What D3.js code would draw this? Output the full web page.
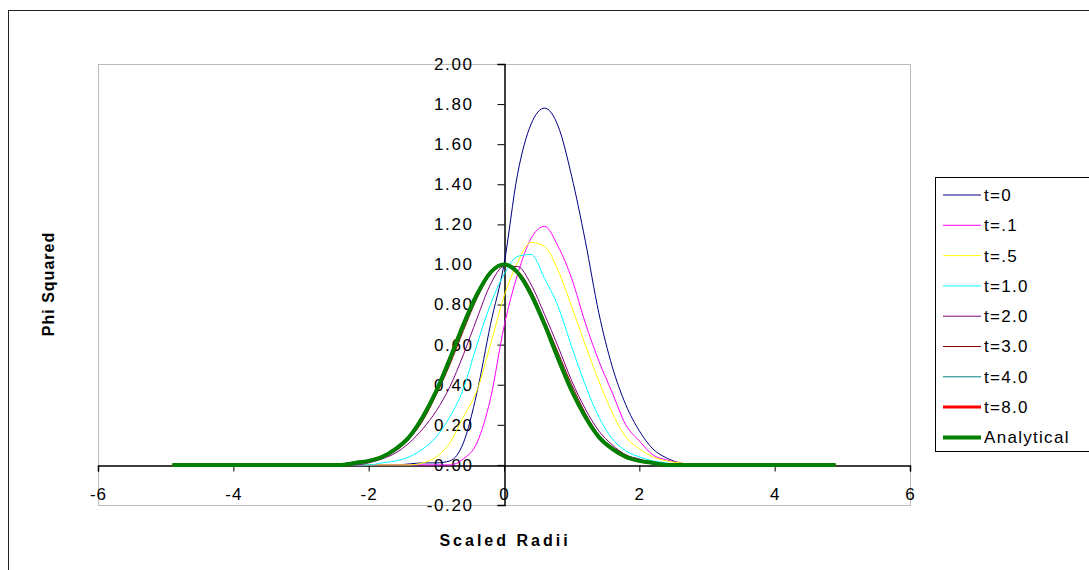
<!DOCTYPE html>
<html lang="en">
<head>
    <meta charset="UTF-8">
    <title>Phi Squared</title>
    <script src="https://d3js.org/d3.v7.min.js"></script>
    <style>
        body { margin: 0; background: #fff; }
        svg text { font-family: "Liberation Sans", Arial, sans-serif; fill: #000; }
    </style>
</head>
<body>
    <div id="chart"></div>
    <script>
        // x positions (scaled radii)
        const radii = [-4.9, -3.0, -2.8, -2.6, -2.4, -2.2, -2.0, -1.8, -1.6, -1.4, -1.2, -1.0, -0.8, -0.6, -0.4, -0.2,
            0, 0.2, 0.4, 0.6, 0.8, 1.0, 1.2, 1.4, 1.6, 1.8, 2.0, 2.2, 2.4, 2.6, 2.8, 3.0, 4.9];

        const t0 = [0, 0, 0, 0, 0, 0, 0, 0, 0, 0.005, 0.01, 0.01, 0.02, 0.11, 0.36, 0.70,
            1.00, 1.45, 1.70, 1.78, 1.69, 1.44, 1.12, 0.76, 0.49, 0.30, 0.17, 0.08, 0.035, 0.01, 0, 0, 0];
        const t01 = [0, 0, 0, 0, 0, 0, 0, 0, 0, 0, 0, 0, 0, 0.03, 0.11, 0.33,
            0.69, 0.95, 1.13, 1.19, 1.09, 0.93, 0.71, 0.52, 0.36, 0.20, 0.12, 0.05, 0.025, 0.01, 0, 0, 0];
        const t05 = [0, 0, 0, 0, 0, 0, 0, 0, 0, 0, 0.01, 0.04, 0.11, 0.24, 0.37, 0.60,
            0.84, 1.01, 1.11, 1.09, 0.97, 0.79, 0.60, 0.42, 0.26, 0.14, 0.08, 0.04, 0.02, 0.01, 0, 0, 0];
        const t1 = [0, 0, 0, 0, 0, 0, 0, 0.01, 0.02, 0.04, 0.08, 0.14, 0.24, 0.38, 0.60, 0.80,
            0.95, 1.04, 1.05, 0.93, 0.79, 0.59, 0.40, 0.24, 0.13, 0.07, 0.04, 0.02, 0.01, 0, 0, 0, 0];
        const t2 = [0, 0, 0, 0, 0, 0, 0.01, 0.03, 0.06, 0.11, 0.18, 0.27, 0.39, 0.55, 0.73, 0.90,
            0.99, 0.99, 0.90, 0.75, 0.59, 0.42, 0.28, 0.17, 0.10, 0.05, 0.03, 0.01, 0, 0, 0, 0, 0];
        const t3 = [0, 0, 0, 0, 0, 0.01, 0.02, 0.04, 0.07, 0.13, 0.22, 0.35, 0.50, 0.67, 0.83, 0.95,
            1.00, 0.97, 0.87, 0.72, 0.56, 0.40, 0.26, 0.15, 0.09, 0.05, 0.02, 0.01, 0, 0, 0, 0, 0];
        const t4 = [0, 0, 0, 0, 0, 0.01, 0.02, 0.04, 0.08, 0.14, 0.23, 0.36, 0.52, 0.69, 0.84, 0.96,
            1.00, 0.96, 0.86, 0.71, 0.54, 0.38, 0.24, 0.15, 0.08, 0.04, 0.02, 0.01, 0, 0, 0, 0, 0];
        const t8 = [0, 0, 0, 0, 0, 0.01, 0.02, 0.04, 0.08, 0.14, 0.24, 0.37, 0.53, 0.70, 0.85, 0.96,
            1.00, 0.96, 0.85, 0.70, 0.53, 0.37, 0.24, 0.14, 0.08, 0.04, 0.02, 0.01, 0, 0, 0, 0, 0];
        const analytical = [0, 0, 0, 0, 0, 0.01, 0.02, 0.04, 0.08, 0.14, 0.24, 0.37, 0.53, 0.70, 0.85, 0.96,
            1.00, 0.96, 0.85, 0.70, 0.53, 0.37, 0.24, 0.14, 0.08, 0.04, 0.02, 0.01, 0, 0, 0, 0, 0];

        const seriesNames = ['t=0', 't=.1', 't=.5', 't=1.0', 't=2.0', 't=3.0', 't=4.0', 't=8.0', 'Analytical'];
        const seriesData = [t0, t01, t05, t1, t2, t3, t4, t8, analytical];
        const seriesColors = ['#000080', '#ff00ff', '#ffff00', '#00ffff', '#800080', '#800000', '#008080', '#ff0000', '#008000'];
        const seriesWidths = [1, 1, 1, 1, 1, 1, 1, 3, 4];

        const xTicks = [-6, -4, -2, 0, 2, 4, 6];
        const yTicks = [-0.2, 0, 0.2, 0.4, 0.6, 0.8, 1.0, 1.2, 1.4, 1.6, 1.8, 2.0];

        const W = 1089, H = 570;
        const plot = { left: 98, right: 910, top: 64, bottom: 505 };

        const svg = d3.select('#chart').append('svg')
            .attr('width', W)
            .attr('height', H);

        // chart border
        svg.append('rect')
            .attr('x', 8.5).attr('y', 10.5)
            .attr('width', 1100).attr('height', 600)
            .attr('fill', 'none')
            .attr('stroke', '#222');

        const x = d3.scaleLinear().domain([-6, 6]).range([plot.left, plot.right]);
        const y = d3.scaleLinear().domain([-0.2, 2.0]).range([plot.bottom, plot.top]);

        // plot area border (dotted)
        svg.append('rect')
            .attr('x', plot.left + 0.5).attr('y', plot.top + 0.5)
            .attr('width', plot.right - plot.left).attr('height', plot.bottom - plot.top)
            .attr('fill', 'none')
            .attr('stroke', '#777')
            .attr('stroke-dasharray', '1,1');

        // plain hyphen for negatives, like the original
        const fmtX = d => String(d);
        const fmtY = d => d3.format('.2f')(d).replace('−', '-');

        // x axis at y=0
        const xAxis = svg.append('g')
            .attr('transform', `translate(0,${Math.round(y(0)) + 0.5})`)
            .call(d3.axisBottom(x).tickValues(xTicks).tickFormat(fmtX).tickSize(6).tickPadding(16));
        xAxis.select('.domain').attr('stroke', '#000').attr('stroke-width', 1.5);
        xAxis.selectAll('text').style('font-size', '17px').style('letter-spacing', '1px');

        // y axis at x=0
        const yAxis = svg.append('g')
            .attr('transform', `translate(${Math.round(x(0)) + 0.5},0)`)
            .call(d3.axisLeft(y).tickValues(yTicks).tickFormat(fmtY).tickSize(7).tickPadding(24));
        yAxis.select('.domain').attr('stroke', '#000').attr('stroke-width', 1.5);
        yAxis.selectAll('text').style('font-size', '17px').style('letter-spacing', '1.6px');

        const line = d3.line()
            .x((d, i) => x(radii[i]))
            .y(d => y(d))
            .curve(d3.curveMonotoneX);

        svg.append('g').selectAll('path')
            .data(seriesData)
            .join('path')
            .attr('d', d => line(d))
            .attr('fill', 'none')
            .attr('stroke', (d, i) => seriesColors[i])
            .attr('stroke-width', (d, i) => seriesWidths[i])
            .attr('stroke-linejoin', 'round');

        // axis titles
        svg.append('text')
            .attr('transform', 'translate(54,284) rotate(-90)')
            .attr('text-anchor', 'middle')
            .style('font-size', '16px')
            .style('font-weight', 'bold')
            .style('letter-spacing', '1px')
            .text('Phi Squared');

        svg.append('text')
            .attr('x', 505).attr('y', 546)
            .attr('text-anchor', 'middle')
            .style('font-size', '16px')
            .style('font-weight', 'bold')
            .style('letter-spacing', '3px')
            .text('Scaled Radii');

        // legend
        const legend = svg.append('g');
        legend.append('rect')
            .attr('x', 935.5).attr('y', 177.5)
            .attr('width', 160).attr('height', 274)
            .attr('fill', '#fff')
            .attr('stroke', '#000');

        const rows = legend.selectAll('g.row')
            .data(seriesNames)
            .join('g')
            .attr('class', 'row')
            .attr('transform', (d, i) => `translate(0,${195 + i * 30.3})`);

        rows.append('line')
            .attr('x1', 943).attr('x2', 981)
            .attr('stroke', (d, i) => seriesColors[i])
            .attr('stroke-width', (d, i) => seriesWidths[i]);

        rows.append('text')
            .attr('x', 984).attr('dy', '0.35em')
            .style('font-size', '17px')
            .style('letter-spacing', '1.3px')
            .text(d => d);
    </script>
</body>
</html>
